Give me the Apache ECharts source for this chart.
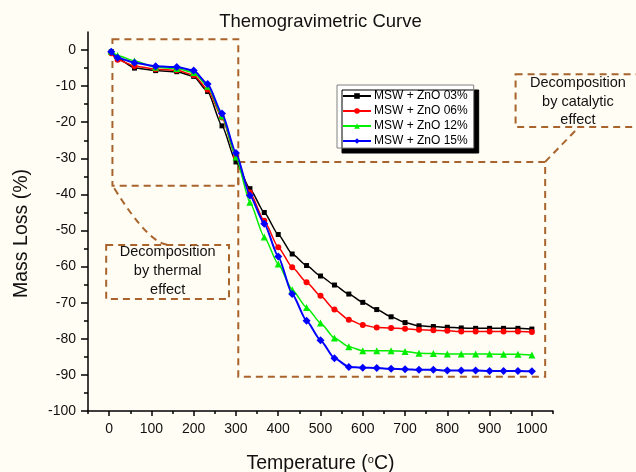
<!DOCTYPE html>
<html><head><meta charset="utf-8">
<script src="https://cdn.jsdelivr.net/npm/echarts@6/dist/echarts.min.js"></script>
<style>html,body{margin:0;padding:0;background:#fffdf4}#c{width:636px;height:472px}</style>
</head><body><div id="c"></div>
<script>
// ---- data ----
const temps = [5, 20, 60, 110, 160, 200, 233, 267, 300, 333, 367, 400, 433, 467, 500, 533, 567, 600, 633, 667, 700, 733, 767, 800, 833, 867, 900, 933, 967, 1000];
const seriesNames = ['MSW + ZnO 03%', 'MSW + ZnO 06%', 'MSW + ZnO 12%', 'MSW + ZnO 15%'];
const zno03 = [-0.5,-2.3,-5.0,-5.7,-6.0,-7.3,-11.5,-21.0,-31.0,-38.4,-45.0,-51.1,-56.5,-59.7,-62.6,-65.1,-67.6,-69.9,-71.9,-73.9,-75.5,-76.4,-76.6,-76.8,-77.0,-77.1,-77.1,-77.1,-77.1,-77.3];
const zno06 = [-0.9,-2.7,-4.4,-5.3,-5.6,-6.9,-10.9,-18.7,-29.6,-39.5,-47.3,-54.6,-60.2,-64.3,-68.1,-71.9,-74.7,-76.2,-76.9,-77.0,-77.2,-77.5,-77.6,-77.8,-78.0,-78.0,-78.0,-78.0,-78.0,-78.1];
const zno12 = [-0.3,-1.5,-3.0,-4.8,-5.1,-6.2,-10.0,-18.3,-29.6,-42.2,-51.8,-59.3,-66.4,-71.3,-75.6,-79.8,-82.2,-83.3,-83.3,-83.3,-83.5,-84.0,-84.1,-84.2,-84.2,-84.2,-84.2,-84.3,-84.3,-84.5];
const zno15 = [-0.5,-2.1,-3.5,-4.5,-4.7,-5.7,-9.4,-17.6,-28.5,-40.3,-48.1,-57.2,-67.6,-75.0,-80.4,-85.4,-87.8,-88.0,-88.1,-88.3,-88.4,-88.6,-88.6,-88.8,-88.8,-88.8,-88.9,-88.9,-88.9,-89.0];
const xTickLabels = [0,100,200,300,400,500,600,700,800,900,1000];
const xMinorTicks = [-50,50,150,250,350,450,550,650,750,850,950,1050];
const yTickLabels = [-100,-90,-80,-70,-60,-50,-40,-30,-20,-10,0];
const yMinorTicks = [-95,-85,-75,-65,-55,-45,-35,-25,-15,-5];

const FONT = '"Liberation Sans", Arial, sans-serif';
const BROWN = '#a8642c';
const colors = ['#000000', '#ff0000', '#00ee00', '#0000ff'];
const symbols = ['rect', 'circle', 'triangle', 'diamond'];
const symbolSizes = [5, 6, 7, 8];
const values = [zno03, zno06, zno12, zno15];

const chart = echarts.init(document.getElementById('c'), null, {renderer: 'canvas'});

const axisLineStyle = {color: '#000', width: 1.5};
const option = {
  backgroundColor: '#fffdf4',
  animation: false,
  textStyle: {fontFamily: FONT},
  title: {
    text: 'Themogravimetric Curve',
    left: 320.5, textAlign: 'center', top: 12, padding: 0,
    textStyle: {fontFamily: FONT, fontSize: 18.5, fontWeight: 'normal', color: '#111'}
  },
  legend: {
    orient: 'vertical',
    left: 337, top: 85,
    padding: [5, 6, 1, 5],
    itemWidth: 28, itemHeight: 7, itemGap: 3,
    backgroundColor: '#ffffff',
    borderColor: '#808080', borderWidth: 1,
    shadowColor: '#000', shadowBlur: 0, shadowOffsetX: 5, shadowOffsetY: 5,
    textStyle: {fontFamily: FONT, fontSize: 12, color: '#000', padding: [0, 0, 0, -2]},
    data: seriesNames
  },
  grid: {left: 88, right: 83, top: 32, bottom: 61, containLabel: false, outerBoundsMode: 'none'},
  xAxis: [{
    type: 'value', min: -50, max: 1050,
    name: 'Temperature ({sup|o}C)', nameLocation: 'middle', nameGap: 43,
    nameTextStyle: {fontFamily: FONT, fontSize: 19.5, color: '#111',
      rich: {sup: {fontFamily: FONT, fontSize: 11, verticalAlign: 'top', padding: [0, 0, 9, 0], color: '#111'}}},
    axisLine: {show: true, onZero: false, lineStyle: axisLineStyle},
    axisTick: {show: true, length: 5, lineStyle: axisLineStyle, customValues: xTickLabels},
    axisLabel: {show: true, margin: 11, fontFamily: FONT, fontSize: 14, color: '#111',
      customValues: xTickLabels, formatter: v => String(v)},
    splitLine: {show: false}
  }, {
    type: 'value', min: -50, max: 1050, position: 'bottom',
    axisLine: {show: false, onZero: false},
    axisTick: {show: true, length: 3, lineStyle: axisLineStyle, customValues: xMinorTicks},
    axisLabel: {show: false},
    splitLine: {show: false}
  }],
  yAxis: [{
    type: 'value', min: -100, max: 5,
    name: 'Mass Loss (%)', nameLocation: 'middle', nameGap: 56,
    nameTextStyle: {fontFamily: FONT, fontSize: 19.5, color: '#111', padding: [0, 24, 0, 0]},
    axisLine: {show: true, onZero: false, lineStyle: axisLineStyle},
    axisTick: {show: true, length: 7, lineStyle: axisLineStyle, customValues: yTickLabels},
    axisLabel: {show: true, margin: 12, fontFamily: FONT, fontSize: 14, color: '#111',
      customValues: yTickLabels, formatter: v => String(v)},
    splitLine: {show: false}
  }, {
    type: 'value', min: -100, max: 5, position: 'left',
    axisLine: {show: false, onZero: false},
    axisTick: {show: true, length: 4, lineStyle: axisLineStyle, customValues: yMinorTicks},
    axisLabel: {show: false},
    splitLine: {show: false}
  }],
  series: seriesNames.map((name, i) => ({
    name: name,
    type: 'line',
    xAxisIndex: 0, yAxisIndex: 0,
    data: temps.map((t, k) => [t, values[i][k]]),
    smooth: 0.2, smoothMonotone: 'x',
    symbol: symbols[i], symbolSize: symbolSizes[i], showSymbol: true,
    lineStyle: {color: colors[i], width: i === 3 ? 2 : 1.5},
    itemStyle: {color: colors[i]},
    z: 3 + i
  }))
};
chart.setOption(option);

// ---- annotations (in data coordinates, converted through the axes) ----
const boxThermalRegion = [7.8, 3.0, 305.5, -37.6];     // x0, y0, x1, y1
const boxCatalyticRegion = [305.5, -31.0, 1031.5, -90.5];
const labelThermalBox = [-7, -54, 283.5, -69];
const labelCatalyticBox = [961.5, -6.7, 1250, -21.3];
const labelThermalCenter = [138.5, -61.2];
const labelCatalyticCenter = [1109, -14.3];
const connThermal = [[12, -38.3], [97, -54.2], [143, -54]]; // start, control, end
const connCatalytic = [[1031.5, -31.0], [1037, -30.3], [1110, -21.5]];

function P(p) { return chart.convertToPixel({xAxisIndex: 0, yAxisIndex: 0}, p); }
function dashedRect(b) {
  const a = P([b[0], b[1]]), c = P([b[2], b[3]]);
  return {type: 'rect', silent: true, z: 1,
    shape: {x: a[0], y: a[1], width: c[0] - a[0], height: c[1] - a[1]},
    style: {fill: 'none', stroke: BROWN, lineWidth: 2, lineDash: [7, 5]}};
}
function label(txt, c) {
  const p = P(c);
  return {type: 'text', silent: true, z: 2, x: p[0], y: p[1],
    style: {text: txt, align: 'center', verticalAlign: 'middle',
      font: '14.5px ' + FONT, lineHeight: 18.8, fill: '#111'}};
}
const s0 = P(connThermal[0]), c0 = P(connThermal[1]), e0 = P(connThermal[2]);
const catPts = connCatalytic.map(P);
chart.setOption({
  graphic: [
    dashedRect(boxThermalRegion),
    dashedRect(boxCatalyticRegion),
    dashedRect(labelThermalBox),
    dashedRect(labelCatalyticBox),
    {type: 'bezierCurve', silent: true, z: 1,
      shape: {x1: s0[0], y1: s0[1], cpx1: c0[0], cpy1: c0[1], x2: e0[0], y2: e0[1]},
      style: {fill: 'none', stroke: BROWN, lineWidth: 2, lineDash: [7, 5]}},
    {type: 'polyline', silent: true, z: 1,
      shape: {points: catPts},
      style: {fill: 'none', stroke: BROWN, lineWidth: 2, lineDash: [7, 5]}},
    label('Decomposition\nby thermal\neffect', labelThermalCenter),
    label('Decomposition\nby catalytic\neffect', labelCatalyticCenter)
  ]
});
</script>
</body></html>
